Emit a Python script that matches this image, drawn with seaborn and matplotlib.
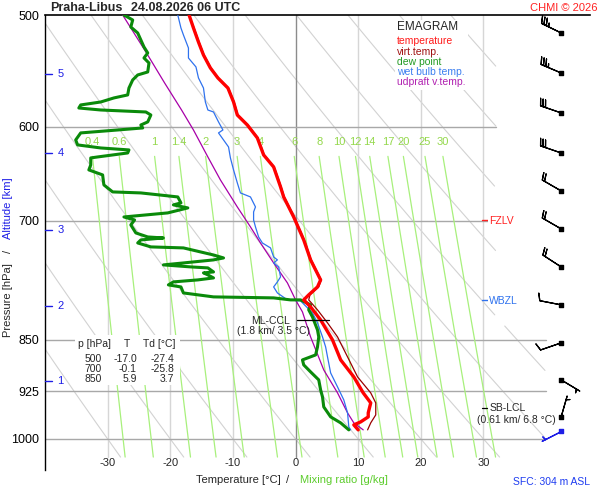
import numpy as np
import pandas as pd
import matplotlib
matplotlib.use("Agg")
import matplotlib.pyplot as plt
from matplotlib.patches import Rectangle
import seaborn as sns

# ---------------- values ----------------
# temperature [hPa, degC]
temp_p = [500, 510.7, 522.6, 533.8, 545.2, 554.2, 563.4, 576.4, 588.8, 598.5, 611.3,
          628.5, 641.0, 662.2, 673.2, 695.6, 722.2, 746.2, 771.0, 779.9, 790.1, 796.6,
          805.8, 823.1, 850.5, 878.7, 903.5, 927.4, 942.7, 958.2, 964.5, 972.4, 977.2, 985.2]
temp_t = [-17.0, -16.3, -15.5, -14.7, -13.6, -12.4, -10.8, -9.9, -9.3, -7.7, -6.1,
          -5.1, -3.5, -2.4, -1.9, -0.3, 1.3, 2.4, 4.0, 3.5, 2.1, 1.3,
          2.4, 4.0, 5.9, 7.2, 9.3, 10.8, 12.0, 11.6, 11.6, 10.4, 9.3, 10.0]

# virtual temperature
virt_p = [500, 510.7, 522.6, 533.8, 545.2, 554.2, 563.4, 576.4, 588.8, 598.5, 611.3,
          628.5, 641.0, 662.2, 673.2, 695.6, 722.2, 746.2, 771.0, 779.9, 790.1, 796.6,
          809.7, 827.1, 846.3, 874.4, 903.5, 927.4, 942.7, 961.4, 974.0, 985.2]
virt_t = [-17.0, -16.2, -15.4, -14.6, -13.5, -12.3, -10.7, -9.8, -9.2, -7.6, -6.0,
          -5.0, -3.4, -2.3, -1.8, -0.2, 1.4, 2.5, 4.1, 3.7, 2.3, 2.1,
          3.5, 5.1, 6.7, 8.3, 9.9, 12.0, 12.8, 12.8, 12.0, 11.5]

# dew point
dew_p = [500, 504.1, 509.9, 514.9, 520.8, 526.8, 532.0, 536.4, 540.8, 548.8, 551.5,
         556.0, 563.4, 569.8, 572.6, 576.4, 579.2, 582.1, 584.0, 585.9, 588.8, 595.5,
         598.5, 601.4, 603.4, 606.3, 613.3, 618.3, 621.4, 623.4, 626.5, 630.6, 631.6,
         638.9, 644.1, 649.4, 660.1, 667.7, 668.8, 673.2, 679.8, 682.0, 685.4, 691.0,
         695.6, 699.0, 704.7, 710.5, 714.0, 718.7, 719.9, 722.2, 725.8, 730.5, 731.7,
         740.2, 743.8, 746.2, 749.9, 752.3, 754.8, 756.0, 761.0, 762.2, 764.7, 768.5,
         771.0, 773.5, 777.3, 779.9, 787.6, 792.7, 794.0, 796.6, 796.6, 803.1, 809.7,
         819.1, 836.7, 846.3, 860.3, 871.6, 878.7, 885.9, 896.1, 907.9, 922.9, 933.5,
         948.9, 964.5, 974.0, 985.2]
dew_t = [-27.4, -26.0, -26.3, -25.2, -24.7, -24.2, -23.6, -24.2, -23.4, -23.6, -25.2,
         -26.0, -26.6, -26.8, -29.0, -31.1, -34.3, -34.6, -31.1, -23.9, -23.1, -23.6,
         -24.7, -24.4, -28.4, -34.3, -35.1, -34.8, -31.1, -26.6, -26.8, -31.6, -32.7,
         -32.7, -33.0, -30.8, -30.6, -29.2, -24.7, -18.8, -18.3, -19.5, -17.2, -20.4,
         -27.4, -25.7, -26.3, -25.8, -25.5, -23.6, -21.1, -24.7, -25.2, -23.1, -17.9,
         -13.1, -11.5, -13.1, -17.9, -21.1, -16.7, -14.0, -13.1, -14.7, -14.0, -13.1,
         -15.6, -19.5, -20.3, -18.3, -17.9, -13.1, -3.5, -0.8, 0.8, 2.4, 2.1,
         2.7, 3.5, 3.7, 3.5, 3.2, 1.1, 1.3, 2.4, 3.7, 4.0, 4.3,
         4.5, 5.6, 7.2, 8.5]

# wet bulb temperature
wet_p = [500, 510.7, 516.6, 527.7, 536.4, 544.3, 554.2, 563.4, 576.4, 584.0, 585.9,
         595.5, 603.4, 606.3, 613.3, 620.4, 631.6, 644.1, 657.9, 668.8, 673.2, 684.3,
         689.9, 699.0, 707.0, 718.7, 725.8, 731.7, 742.6, 746.2, 749.9, 754.8, 767.2,
         773.5, 779.9, 787.6, 796.6, 797.9, 813.7, 827.1, 846.3, 860.3, 874.4, 897.6,
         918.4, 938.1, 958.2, 980.4, 985.2]
wet_t = [-18.8, -18.3, -17.9, -17.1, -17.1, -15.9, -15.5, -14.7, -14.4, -14.0, -13.1,
         -12.3, -11.6, -12.3, -11.5, -10.7, -10.4, -9.9, -9.3, -8.8, -7.2, -6.4,
         -6.7, -6.7, -6.4, -5.9, -5.3, -4.0, -3.5, -2.9, -3.5, -2.7, -2.4,
         -2.9, -3.5, -2.9, -1.3, 0.8, 2.7, 3.5, 4.3, 4.8, 5.1, 5.6,
         6.7, 7.7, 8.3, 8.5, 8.8]

# updraft virtual temperature
upd_p = [500, 514.9, 532.0, 558.8, 584.0, 603.4, 630.6, 654.7, 684.3, 707.0, 725.8,
         749.9, 774.8, 796.6, 812.4, 846.3, 893.2, 927.4, 958.2, 974.0, 985.2]
upd_t = [-27.6, -25.8, -23.8, -20.9, -18.2, -16.3, -14.0, -12.0, -9.3, -7.2, -5.6,
         -3.5, -1.3, 0.0, 1.1, 2.4, 4.5, 6.7, 8.3, 9.3, 10.8]

# wind (pressure, direction from [deg], speed [kt]); last one is the surface
wind_p = [514.9, 549.7, 586.8, 626.5, 666.6, 709.3, 754.8, 803.1, 854.6, 907.9, 964.5]
wind_dir = [296, 293, 289, 289, 300, 300, 303, 281, 251, 121, 16]
wind_spd = [35, 35, 30, 30, 20, 20, 20, 10, 10, 5, 5]
sfc_p, sfc_dir, sfc_spd = 986.7, 243, 5

# axes labels / grid values
p_ticks = [500, 600, 700, 850, 925, 1000]
t_ticks = [-30, -20, -10, 0, 10, 20, 30]
alt_km = [1, 2, 3, 4, 5]
alt_p = [909, 804, 711, 627, 551]
mix_ratios = [0.4, 0.6, 1, 1.4, 2, 3, 4, 6, 8, 10, 12, 14, 17, 20, 25, 30]
theta_lines = list(range(-30, 101, 10))

# table in lower-left corner
tab_p = [500, 700, 850]
tab_t = [-17.0, -0.1, 5.9]
tab_td = [-27.4, -25.8, 3.7]

# ---------------- plotting ----------------
W, H = 600, 500


def fx(px):
    return px / W


def fy(py):
    return 1 - py / H


sns.set_style("white")
plt.rcParams['font.family'] = ['Liberation Sans', 'DejaVu Sans']

fig = plt.figure(figsize=(6, 5), dpi=100)
ax = fig.add_axes([45 / W, 30 / H, 555 / W, 455 / H])
ax.set_yscale('log')

# background: dry adiabats
p_bg = np.geomspace(500, 1030, 200)
x_lim = np.where(p_bg < 830, 32, 40)
for th in theta_lines:
    t = (th + 273.15) * (p_bg / 1000.0) ** 0.2857 - 273.15
    t = np.where(t > x_lim, np.nan, t)
    ax.plot(t, p_bg, color='#d2d2d2', lw=0.8, zorder=1)

# isotherms
for tt in t_ticks:
    ax.plot([tt, tt], [500, 1030], color='#8c8c8c' if tt == 0 else '#d6d6d6',
            lw=1.0, zorder=1.2)

# isobars
for pp in p_ticks[1:]:
    ax.plot([-40, 32 if pp < 800 else 40], [pp, pp], color='#a8a8a8', lw=1.0, zorder=1.3)

# mixing ratio lines
p_mr = np.geomspace(630, 1030, 60)
for w in mix_ratios:
    e = w * p_mr / (622.0 + w)
    lg = np.log(e / 6.112)
    td = 243.5 * lg / (17.67 - lg)
    ax.plot(td, p_mr, color='#a8f07c', lw=0.9, zorder=1.5)
    ax.text(td[0], 615, f'{w:g}', color='#94d84c', fontsize=8, ha='center', va='center',
            zorder=1.6)

# profiles
series = [
    (temp_p, temp_t, '#ff0000', 2.4, 4.0),
    (virt_p, virt_t, '#990000', 0.9, 3.9),
    (dew_p, dew_t, '#0a8a0a', 2.2, 3.8),
    (wet_p, wet_t, '#2f72ee', 0.9, 3.7),
    (upd_p, upd_t, '#a800a8', 0.9, 3.6),
]
for p, t, col, lw, z in series:
    df = pd.DataFrame({'T': t, 'p': p})
    sns.lineplot(data=df, x='T', y='p', sort=False, estimator=None, color=col,
                 linewidth=lw, ax=ax, zorder=z)

ax.set_xlim(-40, 48.6)
ax.set_ylim(1052, 500)
ax.set_xlabel('')
ax.set_ylabel('')

# ticks
ax.set_xticks([])
ax.set_yticks(p_ticks)
ax.set_yticklabels([str(v) for v in p_ticks])
ax.yaxis.set_minor_locator(matplotlib.ticker.NullLocator())
ax.tick_params(axis='y', length=0, pad=4, labelsize=9, colors='black')
for tt in t_ticks:
    ax.text(tt, 1040, str(tt), fontsize=8, ha='center', va='center')

for s in ['right', 'bottom']:
    ax.spines[s].set_visible(False)
ax.spines['left'].set_color('black')
ax.spines['left'].set_linewidth(1.0)
ax.spines['top'].set_color('black')
ax.spines['top'].set_linewidth(1.2)
ax.spines['top'].set_bounds(-40, 47)

# altitude ticks
for km, pp in zip(alt_km, alt_p):
    ax.plot([-40, -38.9], [pp, pp], color='#1e1ee6', lw=1.0, clip_on=False, zorder=5)
    ax.text(-38.0, pp, str(km), color='#1e1ee6', fontsize=8, ha='left', va='center')

# level markers
ax.plot([0.3, 5.3], [823, 823], color='black', lw=0.9, zorder=5)
ax.text(-4.0, 824, 'ML-CCL', fontsize=7.5, ha='center', va='center', zorder=5)
ax.text(-3.5, 838, '(1.8 km/ 3.5 °C)', fontsize=7.5, ha='center', va='center', zorder=5)

ax.plot([29.7, 30.6], [950, 950], color='black', lw=0.9, zorder=5)
ax.text(30.9, 951, 'SB-LCL', fontsize=7.5, ha='left', va='center', zorder=5)
ax.text(35.3, 969, '(0.61 km/ 6.8 °C)', fontsize=7.5, ha='center', va='center', zorder=5)

ax.plot([29.7, 30.7], [699, 699], color='#ff2020', lw=1.0, zorder=6)
ax.text(30.9, 700, 'FZLV', fontsize=7.5, color='#ff2020', ha='left', va='center', zorder=6,
        bbox=dict(facecolor='white', edgecolor='none', pad=1.0))
ax.plot([29.7, 30.7], [797, 797], color='#2f72ee', lw=1.0, zorder=6)
ax.text(30.9, 798, 'WBZL', fontsize=7.5, color='#2f72ee', ha='left', va='center', zorder=6,
        bbox=dict(facecolor='white', edgecolor='none', pad=1.0))

# wind barbs
barb_x = 42.4
barb_sizes = dict(spacing=0.12, height=0.33, width=0.22)
wd = np.radians(wind_dir)
u = -np.array(wind_spd) * np.sin(wd)
v = -np.array(wind_spd) * np.cos(wd)
ax.barbs(np.full(len(wind_p), barb_x), wind_p, u, v, length=5.6, linewidth=0.9,
         color='black', sizes=barb_sizes, zorder=6)
ax.scatter(np.full(len(wind_p), barb_x), wind_p, marker='s', s=5, color='black', zorder=7)
sd = np.radians(sfc_dir)
ax.barbs([barb_x], [sfc_p], [-sfc_spd * np.sin(sd)], [-sfc_spd * np.cos(sd)], length=5.6,
         linewidth=0.9, color='#1e1ee6', sizes=barb_sizes, zorder=6)
ax.scatter([barb_x], [sfc_p], marker='s', s=5, color='#1e1ee6', zorder=7)

# legend box
ax.add_patch(Rectangle((fx(395), fy(90)), 73 / W, 70 / H, transform=fig.transFigure,
                       facecolor='white', edgecolor='none', zorder=8))
fig.text(fx(397), fy(27), 'EMAGRAM', fontsize=8.5, va='center', zorder=9)
leg = [('temperature', '#ff1a1a'), ('virt.temp.', '#a01010'), ('dew point', '#229a22'),
       ('wet bulb temp.', '#3a7ef0'), ('udpraft v.temp.', '#b020b0')]
for i, (lab, col) in enumerate(leg):
    fig.text(fx(397), fy(41.5 + 10.2 * i), lab, fontsize=7.5, color=col, va='center', zorder=9)

# table box
ax.add_patch(Rectangle((fx(75), fy(385)), 105 / W, 50 / H, transform=fig.transFigure,
                       facecolor='white', edgecolor='none', zorder=8))
fig.text(fx(78), fy(344), 'p [hPa]', fontsize=7.5, va='center', zorder=9)
fig.text(fx(127), fy(344), 'T', fontsize=7.5, va='center', ha='center', zorder=9)
fig.text(fx(143), fy(344), 'Td [°C]', fontsize=7.5, va='center', zorder=9)
for i, (pp, tt, dd) in enumerate(zip(tab_p, tab_t, tab_td)):
    yy = fy(359 + 10 * i)
    fig.text(fx(102), yy, str(pp), fontsize=7.5, ha='right', va='center', zorder=9)
    fig.text(fx(137), yy, f'{tt:.1f}', fontsize=7.5, ha='right', va='center', zorder=9)
    fig.text(fx(174), yy, f'{dd:.1f}', fontsize=7.5, ha='right', va='center', zorder=9)

# titles and axis texts
fig.text(fx(50), fy(8), 'Praha-Libus', fontsize=9, weight='bold', va='center')
fig.text(fx(131), fy(8), '24.08.2026 06 UTC', fontsize=9, weight='bold', va='center')
fig.text(fx(597), fy(8), 'CHMI © 2026', fontsize=8, color='#ff2222', ha='right', va='center')

fig.text(fx(238), fy(480), 'Temperature [°C]', fontsize=8, ha='center', va='center')
fig.text(fx(288), fy(480), '/', fontsize=8, ha='center', va='center')
fig.text(fx(344), fy(480), 'Mixing ratio [g/kg]', fontsize=8, color='#5ccc2c',
         ha='center', va='center')
fig.text(fx(590), fy(482), 'SFC: 304 m ASL', fontsize=7.5, color='#1e3cf0',
         ha='right', va='center')

fig.text(fx(8), fy(300), 'Pressure [hPa]', fontsize=8, rotation=90, ha='center', va='center')
fig.text(fx(8), fy(251), '/', fontsize=8, rotation=90, ha='center', va='center')
fig.text(fx(8), fy(208), 'Altitude [km]', fontsize=8, rotation=90, color='#1e1ee6',
         ha='center', va='center')

fig.savefig('out.png', dpi=100, facecolor='white')
